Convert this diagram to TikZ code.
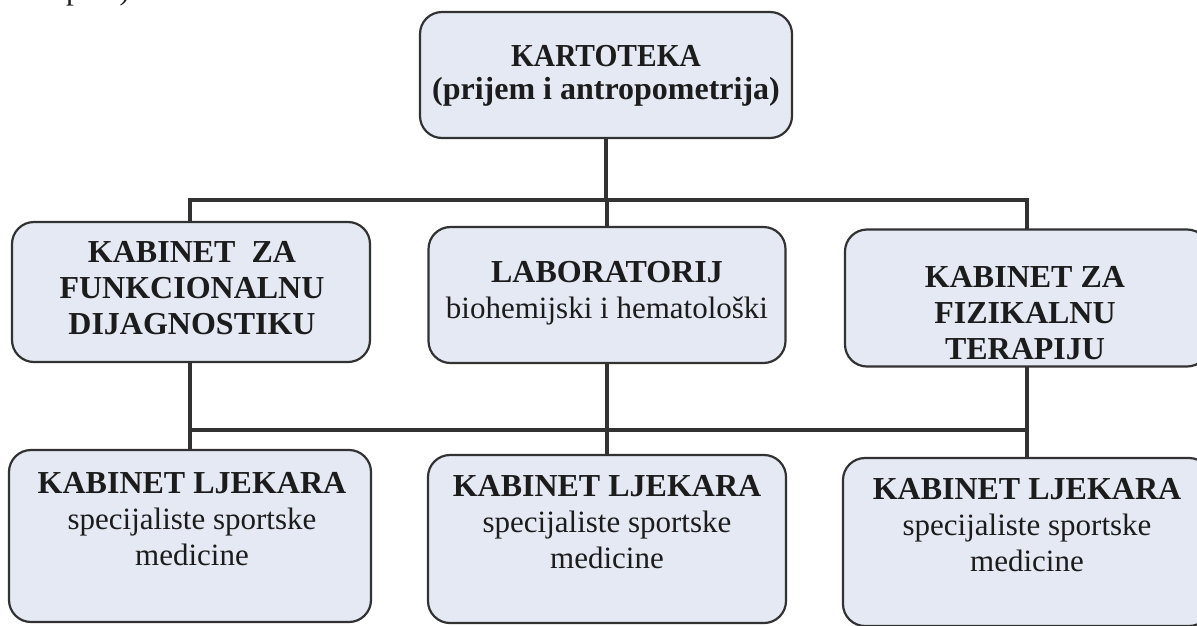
\documentclass[tikz,border=0pt]{standalone}
\usepackage{fontspec}
\setmainfont{Liberation Serif}
\usetikzlibrary{backgrounds}
\definecolor{boxfill}{RGB}{229,233,243}
\definecolor{edge}{RGB}{50,50,50}
\definecolor{ink}{RGB}{28,28,28}
\newcommand{\hd}[1]{{\fontsize{32}{36}\selectfont\bfseries #1}}
\begin{document}
\begin{tikzpicture}[x=1pt,y=-1pt,
  box/.style={draw=edge, line width=2.2pt, fill=boxfill, rounded corners=22pt, inner sep=0pt},
  wire/.style={draw=edge, line width=4.5pt, line join=miter},
  txt/.style={text=ink, align=center, inner sep=0pt, font=\fontsize{31}{36}\selectfont}
]
\useasboundingbox (0,0) rectangle (1197,625);
\clip (0,0) rectangle (1197,625);

% cut-off fragment of page text
\node[txt, anchor=base west] (frag) at (66,-1) {pine)};

% boxes
\node[box, minimum width=372pt, minimum height=126pt] (kart) at (606,75) {};
\node[box, minimum width=358pt, minimum height=140pt] (fd) at (191,292) {};
\node[box, minimum width=357pt, minimum height=136pt] (lab) at (607,295) {};
\node[box, minimum width=364pt, minimum height=137pt] (ft) at (1027,298) {};
\node[box, minimum width=362pt, minimum height=172pt] (lj1) at (190,536) {};
\node[box, minimum width=358pt, minimum height=168pt] (lj2) at (607,539) {};
\node[box, minimum width=368pt, minimum height=168pt] (lj3) at (1027,542) {};

% texts
\node[txt, font=\fontsize{32}{33}\selectfont\bfseries] (kartT) at (606,76) {\scalebox{0.92}[1]{KARTOTEKA}\\(prijem i antropometrija)};
\node[txt] (fdT) at (192,288) {\hd{KABINET\ \ ZA}\\\hd{FUNKCIONALNU}\\\hd{DIJAGNOSTIKU}};
\node[txt] (labT) at (607,293) {\hd{LABORATORIJ}\\biohemijski i hematološki};
\node[txt] (ftT) at (1025,313) {\hd{KABINET ZA}\\\hd{FIZIKALNU}\\\hd{TERAPIJU}};
\node[txt] (lj1T) at (192,519) {\hd{KABINET LJEKARA}\\specijaliste sportske\\medicine};
\node[txt] (lj2T) at (607,522) {\hd{KABINET LJEKARA}\\specijaliste sportske\\medicine};
\node[txt] (lj3T) at (1027,525) {\hd{KABINET LJEKARA}\\specijaliste sportske\\medicine};

% connectors
\coordinate (busT) at (610,200);
\coordinate (busB) at (610,430);
\begin{scope}[on background layer]
\draw[wire] (kart.south) -- (kart.south |- busT);
\draw[wire] (lj1.north) -- (lj1.north |- busT) -- (lj3.north |- busT) -- (lj3.north);
\draw[wire] (lab.north |- busT) -- (lab.north);
\draw[wire] (lab.south) -- (lj2.north);
\draw[wire] (lj1.north |- busB) -- (lj3.north |- busB);
\end{scope}
\end{tikzpicture}
\end{document}
